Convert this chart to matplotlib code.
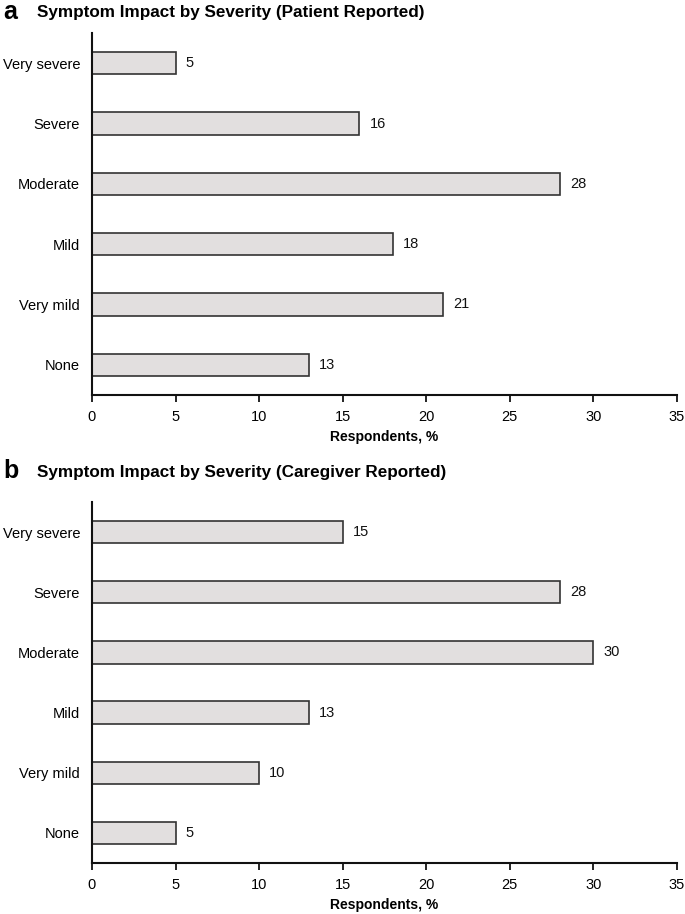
import matplotlib
matplotlib.use("Agg")
import matplotlib.pyplot as plt

categories = ["None", "Very mild", "Mild", "Moderate", "Severe", "Very severe"]
patient_values = [13, 21, 18, 28, 16, 5]
caregiver_values = [5, 10, 13, 30, 28, 15]
xticks = [0, 5, 10, 15, 20, 25, 30, 35]
titles = ["Symptom Impact by Severity (Patient Reported)",
          "Symptom Impact by Severity (Caregiver Reported)"]
panel_letters = ["a", "b"]

plt.rcParams['font.family'] = ['Liberation Sans', 'DejaVu Sans']

W, H = 685, 914
fig = plt.figure(figsize=(W / 100, H / 100), dpi=100)

def px_axes(left, top, right, bottom):
    return fig.add_axes([left / W, 1 - bottom / H, (right - left) / W, (bottom - top) / H])

axes_px = [(92, 33, 677, 395), (92, 502, 677, 863)]
title_y = [12, 471]

for i, (vals, (l, t, r, b)) in enumerate(zip([patient_values, caregiver_values], axes_px)):
    ax = px_axes(l, t, r, b)
    ypos = list(range(len(categories)))
    ax.barh(ypos, vals, height=0.37, color="#e2dfdf", edgecolor="#333333", linewidth=1.2, zorder=2)
    for y, v in zip(ypos, vals):
        ax.text(v + 0.6, y, str(v), va="center", ha="left", fontsize=10.5, color="#111111")
    ax.set_xlim(0, 35)
    ax.set_ylim(-0.5, 5.5)
    ax.set_xticks(xticks)
    ax.set_xticklabels([str(x) for x in xticks], fontsize=10.5)
    ax.set_yticks(ypos)
    ax.set_yticklabels(categories, fontsize=10.5)
    ax.tick_params(axis="y", length=0, pad=8.5)
    ax.tick_params(axis="x", length=5, width=1.2, direction="out", pad=6)
    for s in ["top", "right"]:
        ax.spines[s].set_visible(False)
    for s in ["left", "bottom"]:
        ax.spines[s].set_linewidth(1.5)
        ax.spines[s].set_color("#111111")
    ax.set_xlabel("Respondents, %", fontsize=10, fontweight="bold")
    ax.xaxis.set_label_coords(0.5, -0.098)
    fig.text(3 / W, 1 - title_y[i] / H, panel_letters[i], fontsize=18, fontweight="bold",
             va="center", ha="left")
    fig.text(37 / W, 1 - (title_y[i] + 1) / H, titles[i], fontsize=12.3, fontweight="bold",
             va="center", ha="left")

fig.savefig("out.png", dpi=100)
